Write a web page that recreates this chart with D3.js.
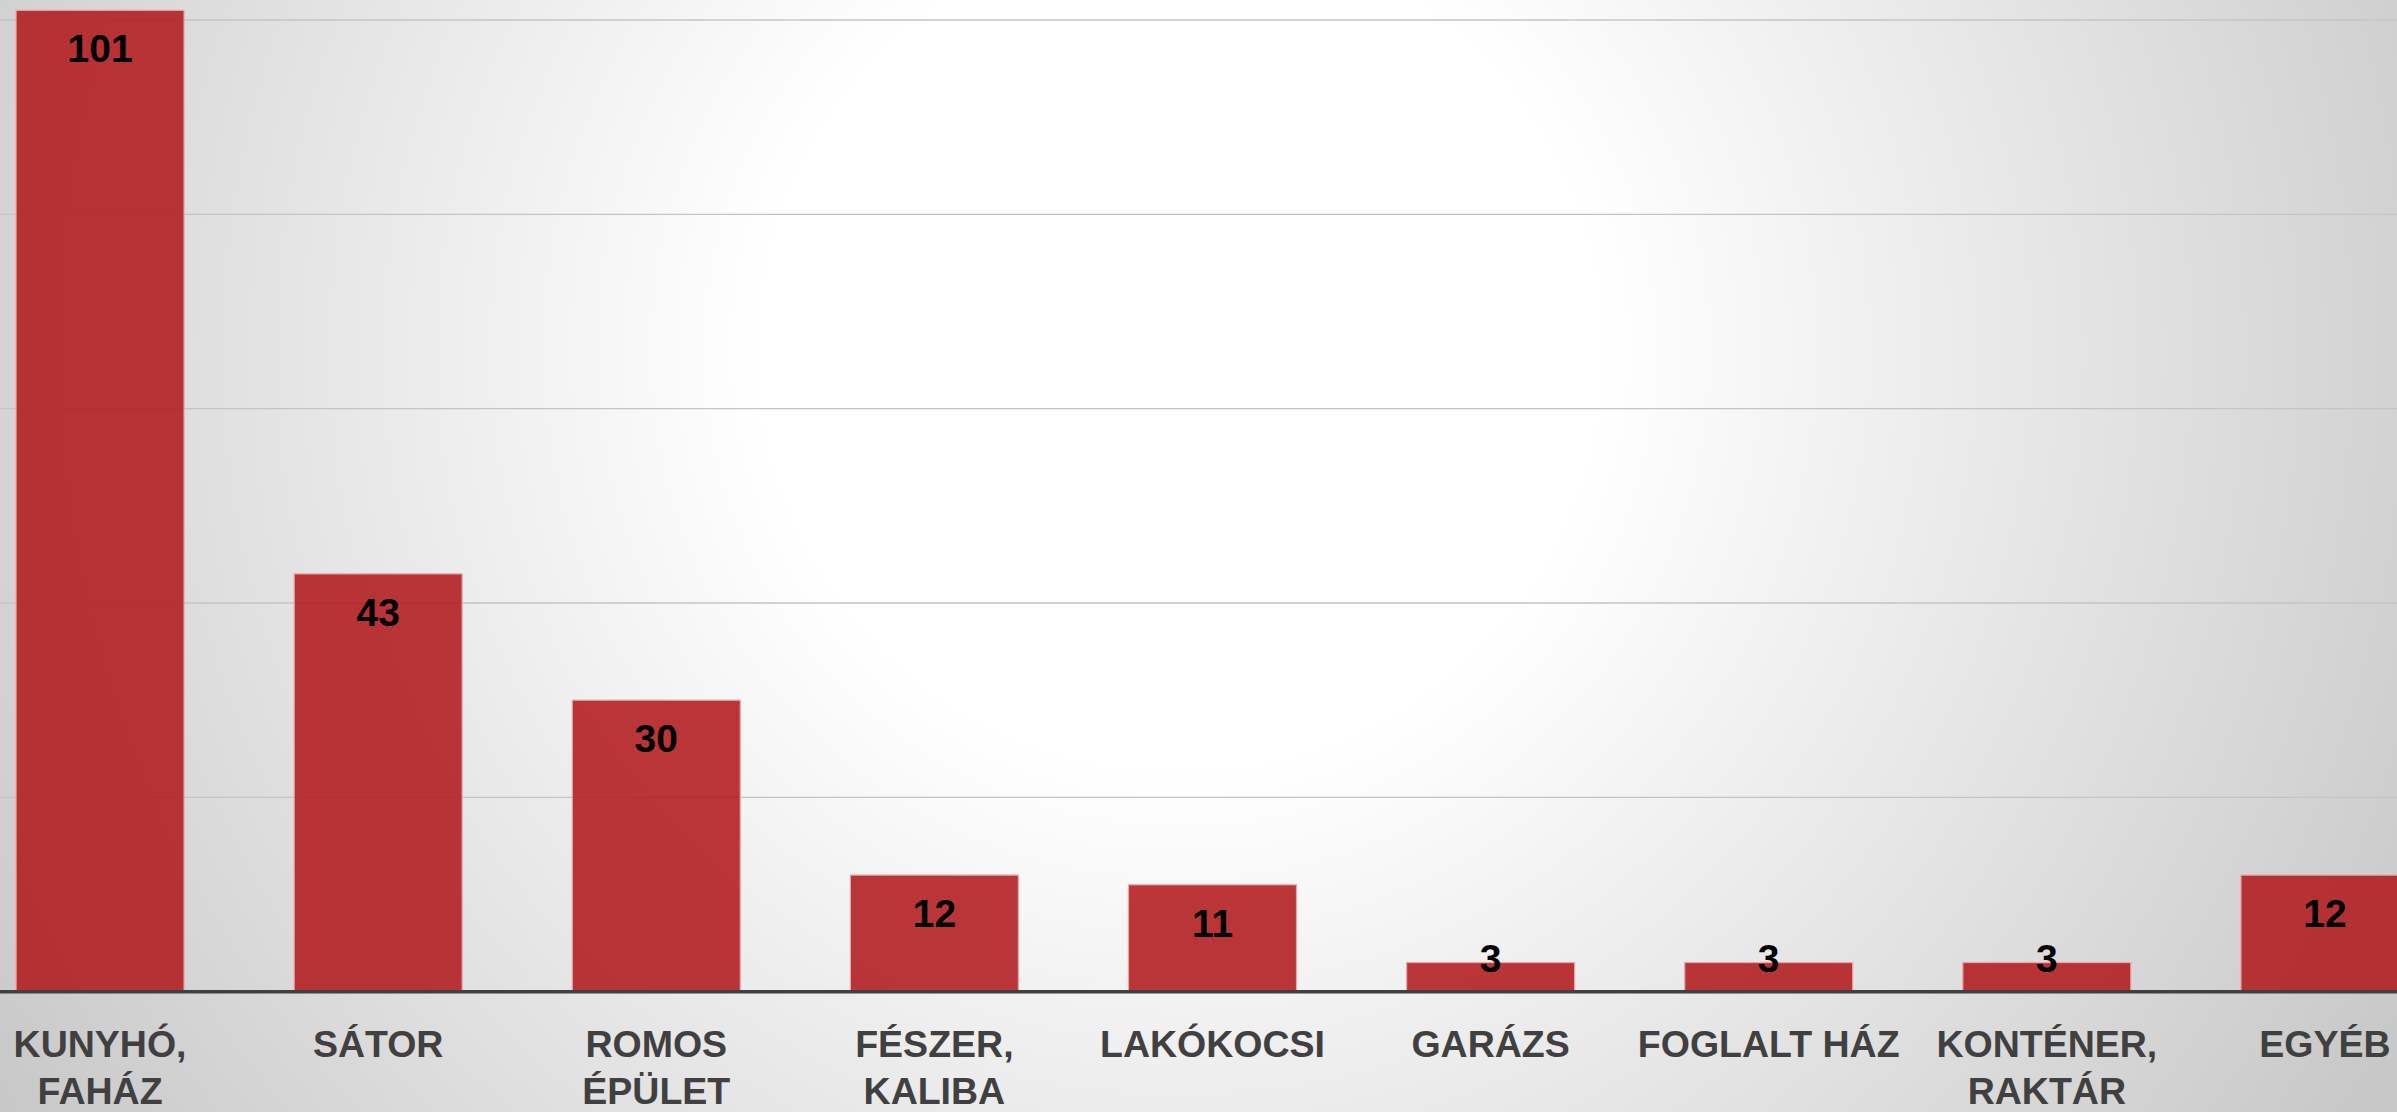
<!DOCTYPE html>
<html lang="hu">

<head>
    <meta charset="UTF-8">
    <title>Lakhatás típusa</title>
    <script src="https://d3js.org/d3.v7.min.js"></script>
    <style>
        html, body {
            margin: 0;
            padding: 0;
            overflow: hidden;
        }

        svg {
            display: block;
        }

        .grid line {
            stroke: #c4c4c4;
            stroke-width: 1.3;
        }

        .bar {
            fill: rgb(177, 26, 28);
            fill-opacity: 0.88;
            stroke: #eaa6a6;
            stroke-width: 1.2;
        }

        .value {
            font-family: "Liberation Sans", Arial, sans-serif;
            font-weight: bold;
            font-size: 39px;
            fill: #000;
            text-anchor: middle;
        }

        .cat {
            font-family: "Liberation Sans", Arial, sans-serif;
            font-weight: bold;
            font-size: 37.5px;
            fill: #404040;
            text-anchor: middle;
        }
    </style>
</head>

<body>
    <div id="chart"></div>

    <script>
        // adatok
        const categories = ["KUNYHÓ, FAHÁZ", "SÁTOR", "ROMOS ÉPÜLET", "FÉSZER, KALIBA", "LAKÓKOCSI",
            "GARÁZS", "FOGLALT HÁZ", "KONTÉNER, RAKTÁR", "EGYÉB"];
        // sortörés a kategória címkékben
        const categoryLines = [["KUNYHÓ,", "FAHÁZ"], ["SÁTOR"], ["ROMOS", "ÉPÜLET"], ["FÉSZER,", "KALIBA"],
            ["LAKÓKOCSI"], ["GARÁZS"], ["FOGLALT HÁZ"], ["KONTÉNER,", "RAKTÁR"], ["EGYÉB"]];
        const values = [101, 43, 30, 12, 11, 3, 3, 3, 12];
        const gridTicks = [20, 40, 60, 80, 100];

        const width = 2397;
        const height = 1112;

        const svg = d3.select("#chart")
            .append("svg")
            .attr("width", width)
            .attr("height", height);

        // háttér: világos közép, szürke szélek
        const grad = svg.append("defs")
            .append("radialGradient")
            .attr("id", "bg")
            .attr("gradientUnits", "userSpaceOnUse")
            .attr("cx", 1180)
            .attr("cy", 350)
            .attr("r", 1400);
        grad.append("stop").attr("offset", "0").attr("stop-color", "#ffffff");
        grad.append("stop").attr("offset", "0.3").attr("stop-color", "#ffffff");
        grad.append("stop").attr("offset", "1").attr("stop-color", "#c8c8c8");

        svg.append("rect")
            .attr("width", width)
            .attr("height", height)
            .attr("fill", "url(#bg)");

        // a diagram balra kilóg a képből
        const x = d3.scaleBand()
            .domain(categories)
            .range([-39, 2464])
            .paddingInner(0.396)
            .paddingOuter(0.198);

        const y = d3.scaleLinear()
            .domain([0, 100])
            .range([991.7, 20]);

        // rácsvonalak
        svg.append("g")
            .attr("class", "grid")
            .selectAll("line")
            .data(gridTicks)
            .join("line")
            .attr("x1", 0)
            .attr("x2", width)
            .attr("y1", d => y(d))
            .attr("y2", d => y(d));

        // oszlopok
        svg.append("g")
            .selectAll("rect")
            .data(values)
            .join("rect")
            .attr("class", "bar")
            .attr("x", (d, i) => x(categories[i]))
            .attr("width", x.bandwidth())
            .attr("y", d => y(d))
            .attr("height", d => y(0) - y(d));

        // tengelyvonal
        svg.append("line")
            .attr("x1", 0)
            .attr("x2", width)
            .attr("y1", y(0))
            .attr("y2", y(0))
            .attr("stroke", "#404040")
            .attr("stroke-width", 3.5);

        // értékcímkék (alacsony oszlopnál feljebb tolva)
        svg.append("g")
            .selectAll("text")
            .data(values)
            .join("text")
            .attr("class", "value")
            .attr("x", (d, i) => x(categories[i]) + x.bandwidth() / 2)
            .attr("y", d => Math.min(y(d) + 38, y(0) - 34))
            .attr("dy", "0.36em")
            .text(d => d);

        // kategória címkék
        const labels = svg.append("g")
            .selectAll("text")
            .data(categories)
            .join("text")
            .attr("class", "cat")
            .attr("x", d => x(d) + x.bandwidth() / 2)
            .attr("y", 1057);

        labels.selectAll("tspan")
            .data((d, i) => categoryLines[i])
            .join("tspan")
            .attr("x", function () { return d3.select(this.parentNode).attr("x"); })
            .attr("dy", (d, i) => i === 0 ? 0 : 47)
            .text(d => d);
    </script>
</body>

</html>
